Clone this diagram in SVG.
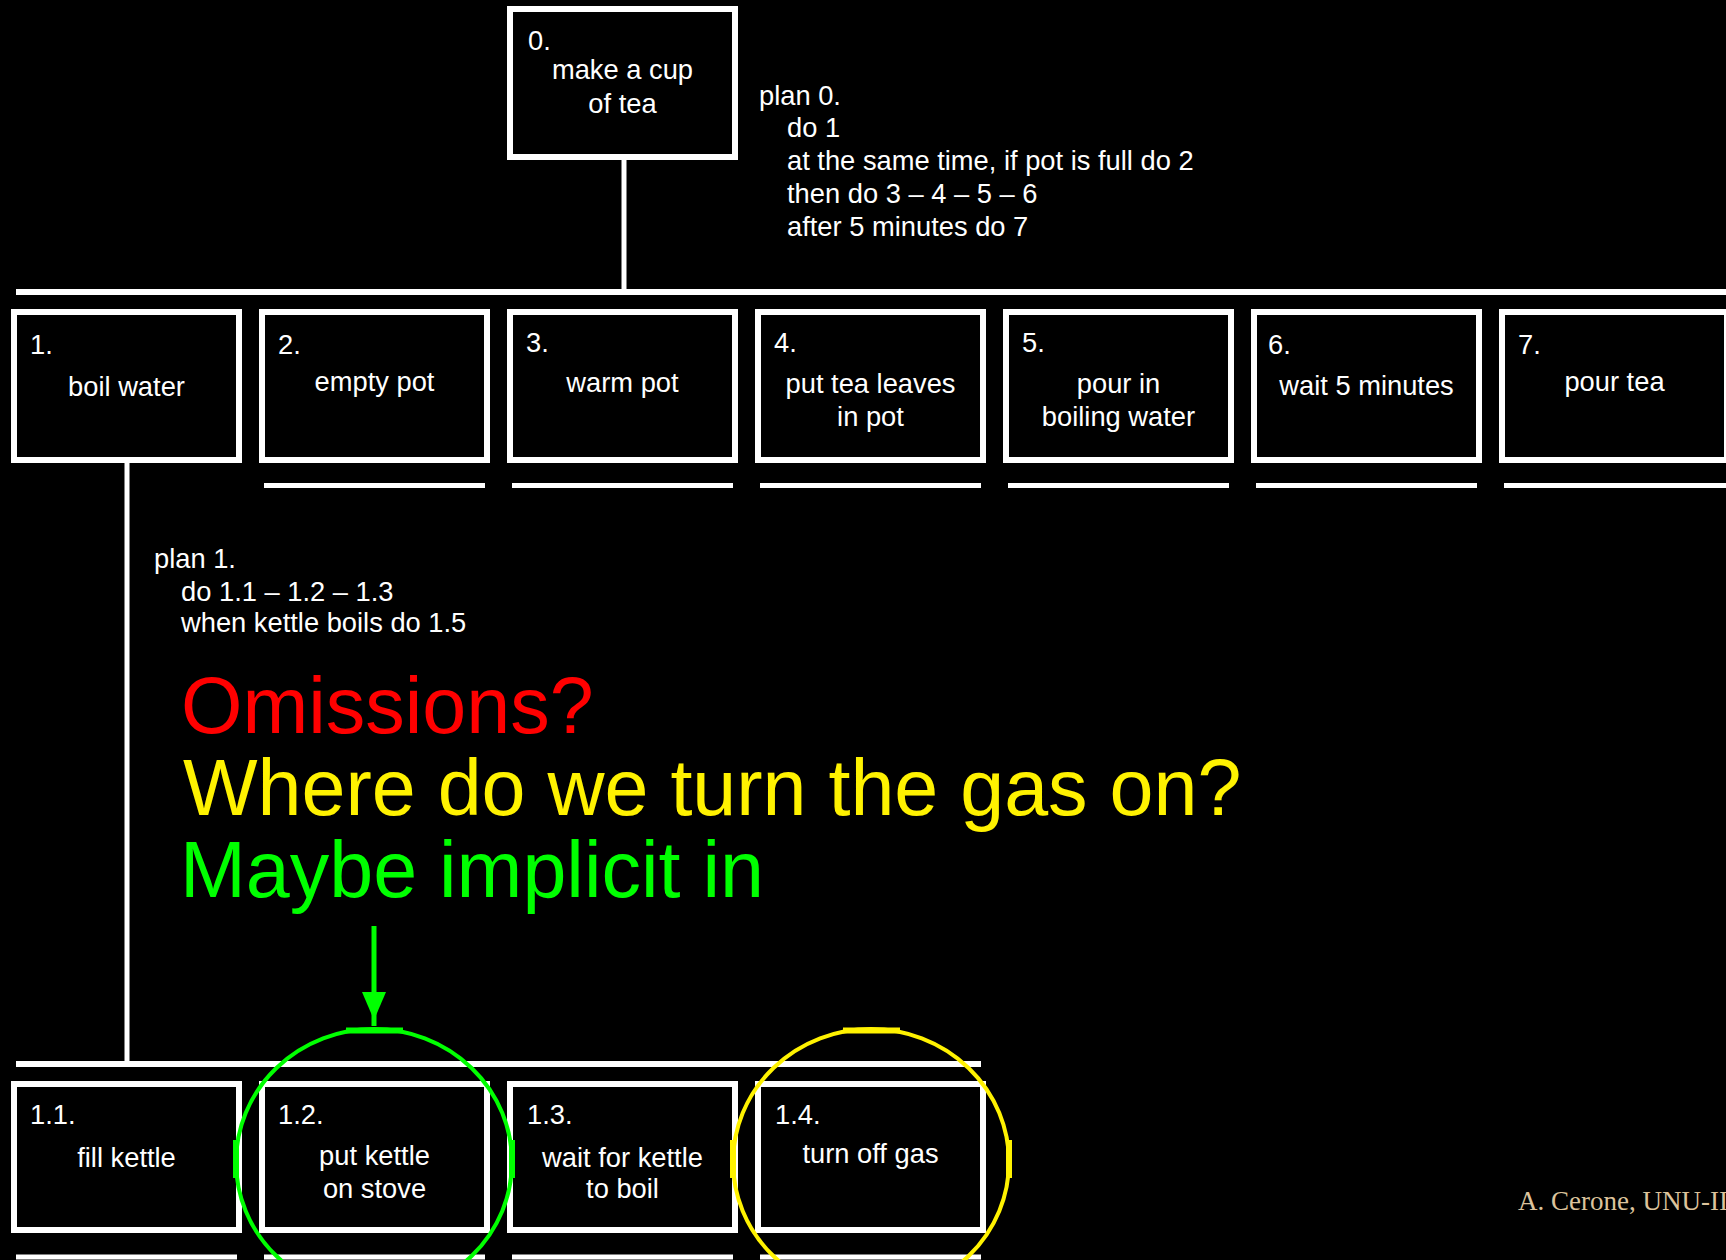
<svg xmlns="http://www.w3.org/2000/svg" width="1726" height="1260" viewBox="0 0 1726 1260">
<style>
.box{fill:#000;stroke:#fff;stroke-width:6}
.t{font-family:"Liberation Sans",Arial,sans-serif;font-size:27.3px;fill:#fff}
.c{text-anchor:middle}
.big{font-family:"Liberation Sans",Arial,sans-serif;font-size:79px}
.ln{stroke:#fff;fill:none}
</style>
<rect width="1726" height="1260" fill="#000"/>
<g id="connectors">
<line class="ln" x1="624" y1="160" x2="624" y2="292" stroke-width="5"/>
<line class="ln" x1="16" y1="292" x2="1726" y2="292" stroke-width="6"/>
<line class="ln" x1="127" y1="463" x2="127" y2="1064" stroke-width="5"/>
<line class="ln" x1="16" y1="1064" x2="981" y2="1064" stroke-width="6"/>
<g stroke="#fff" stroke-width="5">
<line x1="264" y1="485.5" x2="485" y2="485.5"/>
<line x1="512" y1="485.5" x2="733" y2="485.5"/>
<line x1="760" y1="485.5" x2="981" y2="485.5"/>
<line x1="1008" y1="485.5" x2="1229" y2="485.5"/>
<line x1="1256" y1="485.5" x2="1477" y2="485.5"/>
<line x1="1504" y1="485.5" x2="1726" y2="485.5"/>
<line x1="16" y1="1257" x2="237" y2="1257"/>
<line x1="264" y1="1257" x2="485" y2="1257"/>
<line x1="512" y1="1257" x2="733" y2="1257"/>
<line x1="760" y1="1257" x2="981" y2="1257"/>
</g>
</g>
<g id="n0">
<rect class="box" x="510" y="9" width="225" height="148"/>
<text class="t" x="528" y="50">0.</text>
<text class="t c" x="622.5" y="79">make a cup</text>
<text class="t c" x="622.5" y="113">of tea</text>
</g>
<g id="plan0">
<text class="t" x="759" y="105">plan 0.</text>
<text class="t" x="787" y="137">do 1</text>
<text class="t" x="787" y="170">at the same time, if pot is full do 2</text>
<text class="t" x="787" y="203">then do 3 – 4 – 5 – 6</text>
<text class="t" x="787" y="236">after 5 minutes do 7</text>
</g>
<g id="n1">
<rect class="box" x="14" y="312" width="225" height="148"/>
<text class="t" x="30" y="354">1.</text>
<text class="t c" x="126.5" y="396">boil water</text>
</g>
<g id="n2">
<rect class="box" x="262" y="312" width="225" height="148"/>
<text class="t" x="278" y="354">2.</text>
<text class="t c" x="374.5" y="391">empty pot</text>
</g>
<g id="n3">
<rect class="box" x="510" y="312" width="225" height="148"/>
<text class="t" x="526" y="352">3.</text>
<text class="t c" x="622.5" y="392">warm pot</text>
</g>
<g id="n4">
<rect class="box" x="758" y="312" width="225" height="148"/>
<text class="t" x="774" y="352">4.</text>
<text class="t c" x="870.5" y="393">put tea leaves</text>
<text class="t c" x="870.5" y="426">in pot</text>
</g>
<g id="n5">
<rect class="box" x="1006" y="312" width="225" height="148"/>
<text class="t" x="1022" y="352">5.</text>
<text class="t c" x="1118.5" y="393">pour in</text>
<text class="t c" x="1118.5" y="426">boiling water</text>
</g>
<g id="n6">
<rect class="box" x="1254" y="312" width="225" height="148"/>
<text class="t" x="1268" y="354">6.</text>
<text class="t c" x="1366.5" y="395">wait 5 minutes</text>
</g>
<g id="n7">
<rect class="box" x="1502" y="312" width="225" height="148"/>
<text class="t" x="1518" y="354">7.</text>
<text class="t c" x="1614.5" y="391">pour tea</text>
</g>
<g id="plan1">
<text class="t" x="154" y="568">plan 1.</text>
<text class="t" x="181" y="601">do 1.1 – 1.2 – 1.3</text>
<text class="t" x="181" y="632">when kettle boils do 1.5</text>
</g>
<g id="remarks">
<text class="big" x="181" y="733" fill="#ff0000">Omissions?</text>
<text class="big" x="183" y="815" fill="#fff200">Where do we turn the gas on?</text>
<text class="big" x="180" y="897" fill="#00ff00">Maybe implicit in</text>
</g>
<g id="n1_1">
<rect class="box" x="14" y="1084" width="225" height="146"/>
<text class="t" x="30" y="1124">1.1.</text>
<text class="t c" x="126.5" y="1167">fill kettle</text>
</g>
<g id="n1_2">
<rect class="box" x="262" y="1084" width="225" height="146"/>
<text class="t" x="278" y="1124">1.2.</text>
<text class="t c" x="374.5" y="1165">put kettle</text>
<text class="t c" x="374.5" y="1198">on stove</text>
</g>
<g id="n1_3">
<rect class="box" x="510" y="1084" width="225" height="146"/>
<text class="t" x="527" y="1124">1.3.</text>
<text class="t c" x="622.5" y="1167">wait for kettle</text>
<text class="t c" x="622.5" y="1198">to boil</text>
</g>
<g id="n1_4">
<rect class="box" x="758" y="1084" width="225" height="146"/>
<text class="t" x="775" y="1124">1.4.</text>
<text class="t c" x="870.5" y="1163">turn off gas</text>
</g>
<g id="highlights" fill="none">
<ellipse cx="374" cy="1162" rx="138" ry="133" stroke="#00ff00" stroke-width="4"/>
<line x1="346" y1="1030.5" x2="403" y2="1030.5" stroke="#00ff00" stroke-width="6"/>
<line x1="236" y1="1140" x2="236" y2="1178" stroke="#00ff00" stroke-width="6"/>
<line x1="512" y1="1140" x2="512" y2="1178" stroke="#00ff00" stroke-width="6"/>
<ellipse cx="871" cy="1162" rx="138" ry="133" stroke="#fff200" stroke-width="4"/>
<line x1="843" y1="1030.5" x2="900" y2="1030.5" stroke="#fff200" stroke-width="6"/>
<line x1="733" y1="1140" x2="733" y2="1178" stroke="#fff200" stroke-width="6"/>
<line x1="1009" y1="1140" x2="1009" y2="1178" stroke="#fff200" stroke-width="6"/>
<line x1="374" y1="926" x2="374" y2="1026" stroke="#00ff00" stroke-width="5"/>
<path d="M362,992 L386,992 L374,1020 Z" fill="#00ff00"/>
</g>
<text x="1518" y="1210" font-family="'Liberation Serif','Times New Roman',serif" font-size="27" fill="#dcc39c">A. Cerone, UNU-II</text>
</svg>
